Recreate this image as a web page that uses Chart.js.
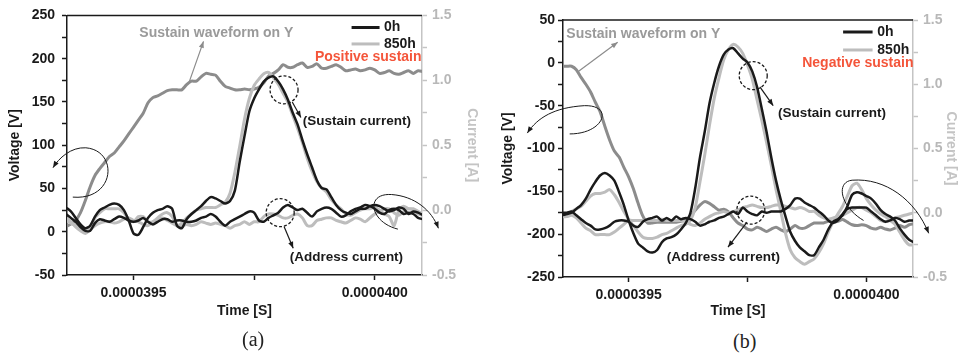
<!DOCTYPE html>
<html>
<head>
<meta charset="utf-8">
<script src="https://cdn.jsdelivr.net/npm/chart.js@4.4.0/dist/chart.umd.min.js"></script>
<style>
  html, body { margin: 0; padding: 0; background: #fff; }
  #wrap { position: relative; width: 959px; height: 357px; overflow: hidden; background: #fff; }
  canvas { position: absolute; top: 0; }
  #chartA { left: 0; }
  #chartB { left: 480px; }
  .cap { position: absolute; font: 20px "Liberation Serif", "DejaVu Serif", serif; line-height: 23px; color: #222; }
</style>
</head>
<body>
<div id="wrap">
  <canvas id="chartA" width="480" height="330"></canvas>
  <canvas id="chartB" width="479" height="330"></canvas>
  <div class="cap" style="left:242px; top:328px">(a)</div>
  <div class="cap" style="left:733px; top:330px">(b)</div>
</div>
<script>
// time in microseconds, printed on the axis in seconds
const timeUs = [
  39.36, 39.37, 39.38, 39.39, 39.40, 39.41, 39.42, 39.43, 39.44, 39.45,
  39.46, 39.47, 39.48, 39.49, 39.50, 39.51, 39.52, 39.53, 39.54, 39.55,
  39.56, 39.57, 39.58, 39.59, 39.60, 39.61, 39.62, 39.63, 39.64, 39.65,
  39.66, 39.67, 39.68, 39.69, 39.70, 39.71, 39.72, 39.73, 39.74, 39.75,
  39.76, 39.77, 39.78, 39.79, 39.80, 39.81, 39.82, 39.83, 39.84, 39.85,
  39.86, 39.87, 39.88, 39.89, 39.90, 39.91, 39.92, 39.93, 39.94, 39.95,
  39.96, 39.97, 39.98, 39.99, 40.00, 40.01, 40.02, 40.03, 40.04, 40.05,
  40.06, 40.07, 40.08, 40.09, 40.10
];
const xTickValues = [39.5, 39.75, 40.0];
const xTickLabels = ['0.0000395', '', '0.0000400'];

// (a) positive sustain
const sustainVoltA = [
  6, 9, 13, 22, 36, 52, 65, 73, 80, 87,
  91, 98, 105, 113, 121, 129, 137, 149, 155, 157,
  160, 163, 164, 164, 164, 170, 174, 174, 179, 183,
  182, 181, 174, 168, 166, 164, 164, 165, 164, 165,
  167, 172, 180, 183, 187, 193, 190, 190, 193, 195,
  190, 191, 194, 189, 189, 191, 193, 190, 186, 187,
  188, 186, 187, 189, 187, 183, 184, 186, 183, 182,
  184, 186, 183, 186, 185
];
const susCurA0 = [
  0.02, -0.01, -0.06, -0.11, -0.14, -0.12, -0.05, 0.00, 0.02, 0.04,
  0.05, 0.04, 0.00, -0.08, -0.18, -0.19, -0.13, -0.06, -0.02, 0.00,
  0.01, 0.03, 0.01, -0.12, -0.14, -0.07, -0.03, 0.00, 0.03, 0.07,
  0.10, 0.09, 0.07, 0.05, 0.07, 0.15, 0.37, 0.57, 0.76, 0.86,
  0.93, 0.99, 1.02, 1.03, 0.99, 0.93, 0.85, 0.75, 0.66, 0.54,
  0.43, 0.33, 0.23, 0.17, 0.16, 0.10, 0.04, 0.00, -0.02, -0.03,
  -0.01, 0.01, 0.01, 0.03, 0.04, 0.03, 0.01, -0.01, 0.00, 0.02,
  0.01, -0.03, -0.01, -0.02, -0.04
];
const susCurA850 = [
  -0.08, -0.10, -0.12, -0.14, -0.15, -0.14, -0.06, -0.02, 0.01, 0.01,
  0.01, 0.01, -0.02, -0.07, -0.09, -0.05, -0.05, -0.09, -0.09, -0.06,
  -0.03, -0.02, -0.05, -0.12, -0.10, -0.06, -0.03, 0.00, 0.01, 0.02,
  0.02, 0.02, 0.04, 0.06, 0.13, 0.29, 0.49, 0.70, 0.86, 0.96,
  1.01, 1.05, 1.06, 1.02, 0.97, 0.90, 0.83, 0.73, 0.63, 0.52,
  0.40, 0.30, 0.22, 0.17, 0.14, 0.08, 0.04, 0.01, -0.03, -0.04,
  -0.02, 0.00, 0.01, 0.01, 0.02, 0.00, -0.03, -0.05, -0.12, 0.00,
  0.03, 0.01, 0.01, -0.01, -0.03
];
const addCurA0 = [
  -0.03, -0.06, -0.09, -0.13, -0.16, -0.16, -0.10, -0.07, -0.08, -0.09,
  -0.07, -0.05, -0.06, -0.08, -0.09, -0.08, -0.06, -0.09, -0.11, -0.09,
  -0.07, -0.07, -0.09, -0.08, -0.08, -0.09, -0.09, -0.08, -0.06, -0.05,
  -0.03, -0.05, -0.09, -0.12, -0.09, -0.07, -0.05, -0.03, -0.01, -0.02,
  -0.08, -0.09, -0.06, -0.04, -0.02, 0.02, 0.04, 0.02, 0.00, 0.01,
  -0.02, -0.05, -0.01, 0.01, 0.02, 0.01, -0.02, -0.05, -0.04, -0.01,
  0.01, 0.02, 0.04, 0.03, 0.01, -0.02, -0.03, 0.00, 0.01, 0.00,
  -0.03, -0.02, -0.03, -0.06, -0.07
];
const addCurA850 = [
  -0.06, -0.09, -0.13, -0.16, -0.18, -0.15, -0.12, -0.10, -0.09, -0.09,
  -0.10, -0.09, -0.07, -0.06, -0.08, -0.09, -0.11, -0.12, -0.09, -0.07,
  -0.06, -0.08, -0.10, -0.12, -0.12, -0.11, -0.12, -0.11, -0.09, -0.10,
  -0.11, -0.10, -0.11, -0.12, -0.14, -0.12, -0.11, -0.09, -0.11, -0.09,
  -0.09, -0.05, -0.03, -0.03, -0.04, -0.06, -0.06, -0.04, -0.03, -0.06,
  -0.12, -0.12, -0.08, -0.07, -0.06, -0.06, -0.08, -0.09, -0.10, -0.08,
  -0.06, -0.07, -0.09, -0.06, -0.03, -0.01, 0.01, 0.01, -0.02, -0.04,
  -0.01, 0.01, 0.00, -0.03, -0.04
];

// (b) negative sustain
const sustainVoltB = [
  -4, -4, -4, -8, -17, -25, -34, -46, -57, -74,
  -90, -103, -110, -122, -133, -147, -164, -179, -187, -187,
  -186, -186, -186, -186, -186, -185, -183, -179, -172, -166,
  -162, -164, -168, -172, -171, -174, -181, -187, -190, -194,
  -195, -192, -194, -197, -194, -192, -195, -197, -194, -190,
  -193, -193, -190, -187, -187, -187, -185, -186, -185, -183,
  -186, -189, -190, -189, -190, -193, -194, -192, -194, -195,
  -193, -190, -192, -189, -188
];
const susCurB0 = [
  -0.02, -0.01, 0.00, 0.03, 0.06, 0.11, 0.18, 0.24, 0.29, 0.31,
  0.29, 0.25, 0.16, 0.06, -0.06, -0.16, -0.24, -0.27, -0.30, -0.31,
  -0.29, -0.23, -0.20, -0.19, -0.17, -0.13, -0.08, 0.00, 0.19, 0.43,
  0.63, 0.85, 1.01, 1.14, 1.23, 1.27, 1.28, 1.24, 1.20, 1.17,
  1.10, 0.98, 0.81, 0.63, 0.43, 0.25, 0.10, -0.03, -0.15, -0.22,
  -0.27, -0.30, -0.33, -0.33, -0.27, -0.21, -0.13, -0.07, -0.05, -0.02,
  0.05, 0.14, 0.16, 0.15, 0.13, 0.11, 0.07, 0.02, -0.01, -0.03,
  -0.06, -0.12, -0.17, -0.21, -0.23
];
const susCurB850 = [
  -0.03, -0.02, 0.01, 0.03, 0.05, 0.09, 0.13, 0.15, 0.15, 0.16,
  0.18, 0.14, 0.08, 0.01, -0.05, -0.10, -0.15, -0.19, -0.20, -0.20,
  -0.19, -0.17, -0.16, -0.14, -0.12, -0.10, -0.09, -0.06, 0.04, 0.24,
  0.45, 0.68, 0.89, 1.05, 1.19, 1.27, 1.31, 1.29, 1.24, 1.15,
  1.04, 0.88, 0.72, 0.55, 0.37, 0.18, 0.01, -0.16, -0.29, -0.35,
  -0.38, -0.40, -0.38, -0.36, -0.31, -0.24, -0.15, -0.07, -0.01, 0.05,
  0.13, 0.21, 0.23, 0.18, 0.11, 0.06, 0.02, -0.01, -0.03, -0.06,
  -0.09, -0.15, -0.21, -0.25, -0.25
];
const addCurB0 = [
  0.00, 0.00, 0.01, -0.02, -0.05, -0.08, -0.10, -0.13, -0.13, -0.12,
  -0.10, -0.07, -0.06, -0.06, -0.07, -0.10, -0.11, -0.07, -0.05, -0.04,
  -0.03, -0.06, -0.04, -0.06, -0.03, -0.05, -0.04, -0.05, -0.07, -0.10,
  -0.09, -0.07, -0.06, -0.04, -0.03, -0.01, 0.01, -0.01, 0.04, 0.01,
  -0.01, -0.02, 0.01, 0.00, 0.01, 0.01, 0.01, 0.03, 0.06, 0.11,
  0.11, 0.08, 0.06, 0.04, 0.01, -0.02, -0.06, -0.08, -0.06, -0.01,
  0.03, 0.04, 0.04, 0.04, 0.04, 0.01, -0.02, -0.05, -0.07, -0.06,
  -0.04, -0.05, -0.07, -0.06, -0.06
];
const addCurB850 = [
  -0.03, -0.03, -0.02, -0.04, -0.08, -0.12, -0.14, -0.17, -0.17, -0.17,
  -0.17, -0.15, -0.12, -0.09, -0.06, -0.06, -0.06, -0.06, -0.06, -0.06,
  -0.06, -0.05, -0.06, -0.06, -0.06, -0.06, -0.07, -0.09, -0.10, -0.08,
  -0.05, -0.03, -0.01, 0.00, 0.01, 0.00, 0.01, 0.02, 0.04, 0.05,
  0.06, 0.05, 0.04, 0.04, 0.05, 0.06, 0.06, 0.05, 0.04, 0.03,
  0.04, 0.03, 0.01, 0.01, -0.02, -0.04, -0.05, -0.04, -0.03, -0.02,
  0.00, 0.02, 0.04, 0.04, 0.02, 0.00, -0.03, -0.06, -0.07, -0.06,
  -0.04, -0.03, -0.02, -0.01, 0.00
];

const BLACK = '#1a1a1a';
const LIGHT = '#bdbdbd';
const WAVE = '#8c8c8c';
const RED = '#f4553a';
const FONT = '"Liberation Sans", Arial, Helvetica, sans-serif';

// annotation spots, given in (time us, volt) so they follow the scales
const notes = {
  chartA: {
    wave: { t: 39.512, v: 229, text: 'Sustain waveform on Y' },
    waveArrow: [[39.616, 174], [39.645, 220]],
    legend: { t0: 39.952, t1: 40.010, tText: 40.019, v0: 236, v850: 217 },
    polarity: { t: 40.097, v: 202, text: 'Positive sustain' },
    susCircle: [39.812, 164],
    susArrow: [[39.829, 150], [39.847, 132]],
    susLabel: [39.851, 128],
    addCircle: [39.804, 22],
    addArrow: [[39.812, 6], [39.831, -19]],
    addLabel: [39.824, -30],
    leftLoop: [[39.374, 40], [39.463, 36], [39.469, 94], [39.401, 97], [39.370, 98], [39.345, 85], [39.333, 74]],
    rightLoop: [[40.048, 3], [39.990, 11], [39.979, 45], [40.035, 43], [40.083, 41], [40.118, 25], [40.132, 4]]
  },
  chartB: {
    wave: { t: 39.369, v: 34, text: 'Sustain waveform on Y' },
    waveArrow: [[39.392, -11], [39.477, 24]],
    legend: { t0: 39.951, t1: 40.013, tText: 40.023, v0: 36, v850: 15 },
    polarity: { t: 40.099, v: 0, text: 'Negative sustain' },
    susCircle: [39.762, -15],
    susArrow: [[39.776, -28], [39.804, -50]],
    susLabel: [39.814, -59],
    addCircle: [39.757, -172],
    addArrow: [[39.749, -186], [39.709, -215]],
    addLabel: [39.580, -227],
    leftLoop: [[39.376, -83], [39.449, -83], [39.470, -49], [39.407, -50], [39.344, -52], [39.308, -64], [39.287, -82]],
    rightLoop: [[39.994, -184], [39.945, -168], [39.935, -139], [39.970, -137], [40.040, -134], [40.103, -160], [40.131, -199]]
  }
};

function arrowHead(ctx, fx, fy, tx, ty, size) {
  const ang = Math.atan2(ty - fy, tx - fx);
  ctx.beginPath();
  ctx.moveTo(tx, ty);
  ctx.lineTo(tx - size * Math.cos(ang - 0.38), ty - size * Math.sin(ang - 0.38));
  ctx.lineTo(tx - size * Math.cos(ang + 0.38), ty - size * Math.sin(ang + 0.38));
  ctx.closePath();
  ctx.fill();
}

const annotate = {
  id: 'annotate',
  afterDraw(chart) {
    const a = notes[chart.canvas.id];
    if (!a) return;
    const ctx = chart.ctx;
    const xs = chart.scales.x, ys = chart.scales.y;
    const P = (t, v) => [xs.getPixelForValue(t), ys.getPixelForValue(v)];
    const area = chart.chartArea;
    ctx.save();

    // top frame
    ctx.strokeStyle = BLACK;
    ctx.lineWidth = 1.5;
    ctx.beginPath();
    ctx.moveTo(area.left, area.top);
    ctx.lineTo(area.right, area.top);
    ctx.stroke();

    ctx.textBaseline = 'middle';

    // sustain waveform label + arrow
    ctx.fillStyle = '#9a9a9a';
    ctx.font = 'bold 14px ' + FONT;
    ctx.textAlign = 'left';
    let p = P(a.wave.t, a.wave.v);
    ctx.fillText(a.wave.text, p[0], p[1]);
    let p0 = P(...a.waveArrow[0]), p1 = P(...a.waveArrow[1]);
    ctx.strokeStyle = '#8c8c8c';
    ctx.lineWidth = 1.2;
    ctx.beginPath(); ctx.moveTo(p0[0], p0[1]); ctx.lineTo(p1[0], p1[1]); ctx.stroke();
    ctx.fillStyle = '#8c8c8c';
    arrowHead(ctx, p0[0], p0[1], p1[0], p1[1], 7);

    // legend
    const lg = a.legend;
    [[lg.v0, BLACK, '0h'], [lg.v850, LIGHT, '850h']].forEach(([v, c, txt]) => {
      const q0 = P(lg.t0, v), q1 = P(lg.t1, v), qt = P(lg.tText, v);
      ctx.strokeStyle = c;
      ctx.lineWidth = 3;
      ctx.beginPath(); ctx.moveTo(q0[0], q0[1]); ctx.lineTo(q1[0], q1[1]); ctx.stroke();
      ctx.fillStyle = BLACK;
      ctx.font = 'bold 14px ' + FONT;
      ctx.textAlign = 'left';
      ctx.fillText(txt, qt[0], qt[1]);
    });

    // polarity tag
    ctx.fillStyle = RED;
    ctx.font = 'bold 14px ' + FONT;
    ctx.textAlign = 'right';
    p = P(a.polarity.t, a.polarity.v);
    ctx.fillText(a.polarity.text, p[0], p[1]);

    // dashed circles, arrows and labels
    ctx.strokeStyle = BLACK;
    ctx.fillStyle = BLACK;
    [[a.susCircle, a.susArrow, a.susLabel, '(Sustain current)'],
     [a.addCircle, a.addArrow, a.addLabel, '(Address current)']].forEach(([c, arr, lab, txt]) => {
      const cc = P(...c);
      ctx.setLineDash([3, 2]);
      ctx.lineWidth = 1.3;
      ctx.beginPath(); ctx.arc(cc[0], cc[1], 14, 0, Math.PI * 2); ctx.stroke();
      ctx.setLineDash([]);
      const s0 = P(...arr[0]), s1 = P(...arr[1]);
      ctx.lineWidth = 1.2;
      ctx.beginPath(); ctx.moveTo(s0[0], s0[1]); ctx.lineTo(s1[0], s1[1]); ctx.stroke();
      arrowHead(ctx, s0[0], s0[1], s1[0], s1[1], 7);
      const lp = P(...lab);
      ctx.font = 'bold 13.5px ' + FONT;
      ctx.textAlign = 'left';
      ctx.fillText(txt, lp[0], lp[1]);
    });

    // axis pointer loops
    [a.leftLoop, a.rightLoop].forEach(loop => {
      const q = loop.map(pt => P(...pt));
      ctx.strokeStyle = BLACK;
      ctx.lineWidth = 1;
      ctx.beginPath();
      ctx.moveTo(q[0][0], q[0][1]);
      ctx.bezierCurveTo(q[1][0], q[1][1], q[2][0], q[2][1], q[3][0], q[3][1]);
      ctx.bezierCurveTo(q[4][0], q[4][1], q[5][0], q[5][1], q[6][0], q[6][1]);
      ctx.stroke();
      arrowHead(ctx, q[5][0], q[5][1], q[6][0], q[6][1], 7);
    });

    ctx.restore();
  }
};

function series(label, values, axis, color, width) {
  return {
    label: label,
    data: timeUs.map((t, i) => ({ x: t, y: values[i] })),
    yAxisID: axis,
    borderColor: color,
    borderWidth: width,
    pointRadius: 0,
    tension: 0.25,
    fill: false
  };
}

function buildPanel(id, p) {
  const boldFont = { family: FONT, size: 14, weight: 'bold' };
  new Chart(document.getElementById(id), {
    type: 'line',
    data: {
      datasets: [
        series('Sustain current 0h', p.sus0, 'y1', BLACK, 2.5),
        series('Address current 0h', p.add0, 'y1', BLACK, 2.5),
        series('Sustain current 850h', p.sus850, 'y1', LIGHT, 3),
        series('Address current 850h', p.add850, 'y1', LIGHT, 3),
        series('Sustain waveform on Y', p.wave, 'y', WAVE, 3)
      ]
    },
    options: {
      responsive: false,
      animation: false,
      layout: { padding: { top: p.top, left: 0, right: 0, bottom: 0 } },
      plugins: { legend: { display: false }, tooltip: { enabled: false } },
      scales: {
        x: {
          type: 'linear',
          min: 39.362,
          max: 40.098,
          afterBuildTicks: s => { s.ticks = xTickValues.map(v => ({ value: v })); },
          afterFit: s => { s.height = p.xHeight; },
          ticks: {
            autoSkip: false, maxRotation: 0, padding: 5, color: BLACK, font: boldFont,
            callback: v => xTickLabels[xTickValues.indexOf(v)] ?? ''
          },
          grid: { drawOnChartArea: false, drawTicks: true, tickLength: 5, tickWidth: 1.5, tickColor: BLACK },
          border: { color: BLACK, width: 1.5 },
          title: { display: true, text: 'Time [S]', color: BLACK, font: boldFont, padding: { top: 0, bottom: 10 } }
        },
        y: {
          position: 'left',
          min: p.vMin,
          max: p.vMax,
          afterFit: s => { s.width = p.leftW; },
          ticks: {
            stepSize: 25, padding: p.leftPad, color: BLACK, font: boldFont,
            callback: v => (Math.round(v) % 50 === 0 ? String(Math.round(v)) : '')
          },
          grid: { drawOnChartArea: false, tickLength: 5, tickWidth: 1.5, tickColor: BLACK },
          border: { color: BLACK, width: 1.5 },
          title: { display: true, text: 'Voltage [V]', color: BLACK, font: boldFont, padding: { top: p.leftTitlePad, bottom: 0 } }
        },
        y1: {
          position: 'right',
          min: -0.5,
          max: 1.5,
          afterFit: s => { s.width = p.rightW; },
          ticks: {
            stepSize: 0.25, padding: 5, color: '#b8b8b8', font: boldFont,
            callback: v => { const r = Math.round(v * 4); return r % 2 === 0 ? (r / 4).toFixed(1) : ''; }
          },
          grid: { drawOnChartArea: false, tickLength: 5, tickWidth: 1.5, tickColor: '#c4c4c4' },
          border: { color: '#c4c4c4', width: 1.5 },
          title: { display: true, text: 'Current [A]', color: '#c4c4c4', font: boldFont, padding: { top: 0, bottom: 0 } }
        }
      }
    },
    plugins: [annotate]
  });
}

buildPanel('chartA', {
  wave: sustainVoltA, sus0: susCurA0, sus850: susCurA850, add0: addCurA0, add850: addCurA850,
  vMin: -50, vMax: 250, top: 14, xHeight: 55, leftW: 67, rightW: 58, leftPad: 7, leftTitlePad: 7
});
buildPanel('chartB', {
  wave: sustainVoltB, sus0: susCurB0, sus850: susCurB850, add0: addCurB0, add850: addCurB850,
  vMin: -250, vMax: 50, top: 20, xHeight: 53, leftW: 83, rightW: 46, leftPad: 3, leftTitlePad: 20
});
</script>
</body>
</html>
